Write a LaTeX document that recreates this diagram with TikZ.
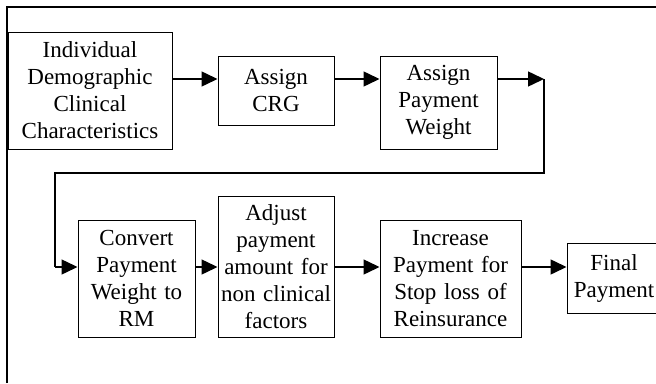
\documentclass[tikz,border=0pt]{standalone}
\usepackage{fontspec}
\setmainfont{Liberation Serif}
\usetikzlibrary{arrows.meta}
\begin{document}
\begin{tikzpicture}[x=1pt,y=-1pt,
  box/.style={draw, line width=1pt, inner sep=0pt, align=center,
    font=\fontsize{23}{27}\selectfont},
  arr/.style={line width=1.5pt, -{Triangle[length=16pt,width=15pt]}},
  conn/.style={line width=1.2pt}]
\useasboundingbox (0,0) rectangle (656,383);
% frame
\coordinate (fl) at (7,383);
\coordinate (fc) at (7,7);
\coordinate (fr) at (656,7);
\draw[line width=1.1pt] (fl) -- (fc) -- (fr);
% row 1
\node[box, text width=164pt, minimum height=117pt] (b1) at (90,90.5)
  {Individual\\Demographic\\Clinical\\Characteristics};
\node[box, text width=116pt, minimum height=69pt] (b2) at (276,90.5)
  {Assign\\CRG};
\node[box, text width=117pt, minimum height=93pt] (b3) at (438.5,102.5)
  {Assign\\Payment\\Weight};
% row 2
\node[box, text width=117pt, minimum height=117pt] (b4) at (136.5,278.5)
  {Convert\\Payment\\Weight to\\RM};
\node[box, text width=116pt, minimum height=141pt] (b5) at (276,266.5)
  {Adjust\\payment\\amount for\\non clinical\\factors};
\node[box, text width=141pt, minimum height=117pt] (b6) at (450.5,278.5)
  {Increase\\Payment for\\Stop loss of\\Reinsurance};
\node[box, text width=94pt, minimum height=70pt] (b7) at (614,278)
  {Final\\Payment};
% levels
\coordinate (r1) at (0,79);
\coordinate (r2) at (0,267);
\coordinate (c1) at (544,79);
\coordinate (c2) at (544,173);
\coordinate (c3) at (55,173);
\coordinate (c4) at (55,267);
% connectors
\draw[arr] (b1.east |- r1) -- (b2.west |- r1);
\draw[arr] (b2.east |- r1) -- (b3.west |- r1);
\draw[arr] (b3.east |- r1) -- (c1);
\draw[conn] (c1) -- (c2) -- (c3) -- (c4);
\draw[arr] (c4) -- (b4.west |- r2);
\draw[arr] (b4.east |- r2) -- (b5.west |- r2);
\draw[arr] (b5.east |- r2) -- (b6.west |- r2);
\draw[arr] (b6.east |- r2) -- (b7.west |- r2);
\end{tikzpicture}
\end{document}
